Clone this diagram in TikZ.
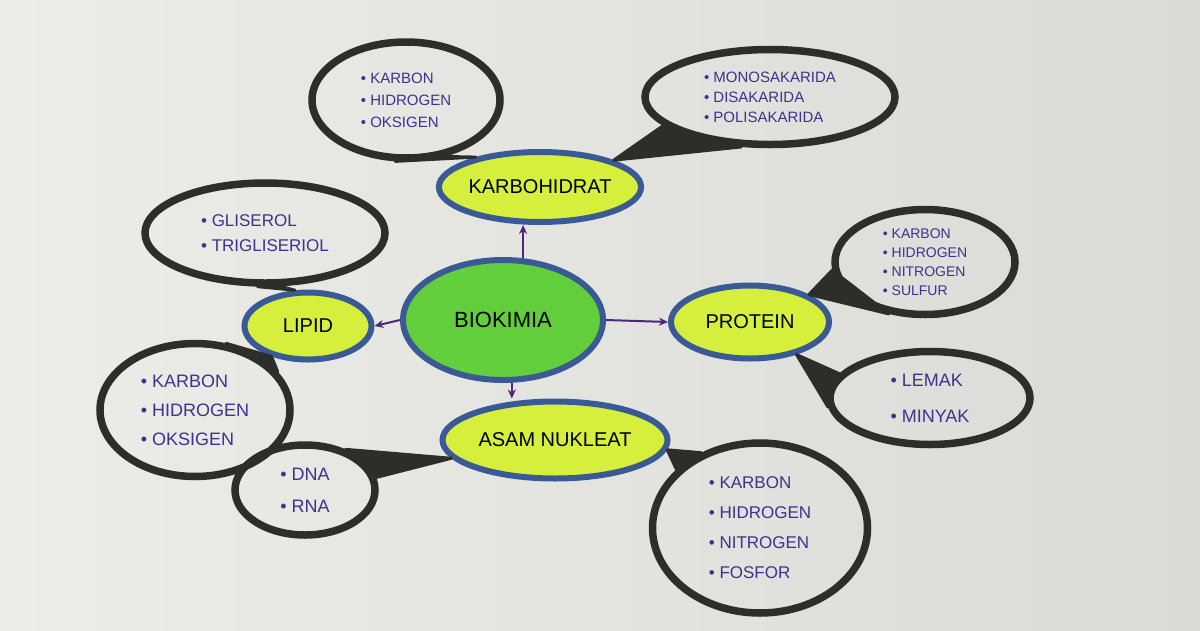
\documentclass[tikz,border=0pt]{standalone}
\usepackage{fontspec}
\setmainfont{Liberation Sans}
\usetikzlibrary{shapes.geometric,arrows.meta}
\definecolor{paperL}{RGB}{236,236,233}
\definecolor{paperR}{RGB}{218,218,214}
\definecolor{ink}{RGB}{45,46,42}
\definecolor{pen}{RGB}{62,50,140}
\definecolor{limefill}{RGB}{214,238,60}
\definecolor{greenfill}{RGB}{98,206,60}
\definecolor{rim}{RGB}{58,90,150}
\definecolor{arrowc}{RGB}{75,40,120}
\tikzset{
  bub/.style={ellipse, draw=ink, line width=7.5pt, text=pen, align=left, inner sep=0pt},
  topic/.style={ellipse, draw=rim, fill=limefill, line width=6pt, inner sep=0pt,
    font=\fontsize{20}{24}\selectfont, text=black},
  tailfill/.style={fill=ink, draw=ink, line width=3pt, line join=round},
  arr/.style={draw=arrowc, line width=2pt, -{Stealth[length=9pt,width=8pt]}},
}
\newcommand{\bl}{\textbullet\ }
\begin{document}
\begin{tikzpicture}[x=1pt,y=-1pt]
\shade[left color=paperL, right color=paperR] (0,0) rectangle (1200,630);
\useasboundingbox (0,0) rectangle (1200,630);

% topics
\node[topic, fill=greenfill, minimum width=200pt, minimum height=120pt,
      font=\fontsize{22}{26}\selectfont] (bio) at (503,320) {BIOKIMIA};
\node[topic, minimum width=198pt, minimum height=70pt] (kh) at (540,187) {KARBOHIDRAT};
\node[topic, minimum width=127pt, minimum height=67pt] (li) at (308,326) {LIPID};
\node[topic, minimum width=158pt, minimum height=73pt] (pr) at (750,322) {PROTEIN};
\node[topic, minimum width=225pt, minimum height=77pt] (as) at (555,440) {ASAM NUKLEAT};

% bubbles
\node[bub, minimum width=188pt, minimum height=116pt, font=\fontsize{15}{22}\selectfont]
  (b1) at (406,100) {\bl KARBON\\\bl HIDROGEN\\\bl OKSIGEN};
\node[bub, minimum width=250pt, minimum height=95pt, font=\fontsize{15}{20}\selectfont]
  (b2) at (770,97) {\bl MONOSAKARIDA\\\bl DISAKARIDA\\\bl POLISAKARIDA};
\node[bub, minimum width=240pt, minimum height=100pt, font=\fontsize{17}{25}\selectfont]
  (b3) at (265,233) {\bl GLISEROL\\\bl TRIGLISERIOL};
\node[bub, minimum width=190pt, minimum height=133pt, font=\fontsize{18}{29}\selectfont]
  (b4) at (195,410) {\bl KARBON\\\bl HIDROGEN\\\bl OKSIGEN};
\node[bub, minimum width=140pt, minimum height=90pt, font=\fontsize{18}{32}\selectfont]
  (b5) at (305,490) {\bl DNA\\\bl RNA};
\node[bub, minimum width=180pt, minimum height=105pt, font=\fontsize{14}{19}\selectfont]
  (b6) at (925,262) {\bl KARBON\\\bl HIDROGEN\\\bl NITROGEN\\\bl SULFUR};
\node[bub, minimum width=200pt, minimum height=93pt, font=\fontsize{18}{36}\selectfont]
  (b7) at (930,398) {\bl LEMAK\\\bl MINYAK};
\node[bub, minimum width=215pt, minimum height=170pt, font=\fontsize{17}{30}\selectfont]
  (b8) at (760,528) {\bl KARBON\\\bl HIDROGEN\\\bl NITROGEN\\\bl FOSFOR};

% tails
\filldraw[tailfill] (b1.-100) -- (kh.155) -- (b1.-55) -- cycle;
\filldraw[tailfill] (b2.-165) -- (kh.20) -- (b2.-120) -- cycle;
\filldraw[tailfill] (b3.-98) -- (li.110) -- (b3.-74) -- cycle;
\filldraw[tailfill] (b4.25) -- (li.-140) -- (b4.65) -- cycle;
\filldraw[tailfill] (b5.10) -- (as.190) -- (b5.45) -- cycle;
\filldraw[tailfill] (b6.-175) -- (pr.25) -- (b6.-125) -- cycle;
\filldraw[tailfill] (b7.165) -- (pr.-35) -- (b7.185) -- cycle;
\filldraw[tailfill] (b8.128) -- (as.-5) -- (b8.145) -- cycle;

% arrows
\draw[arr] (bio.72) -- (bio.72 |- kh.south);
\draw[arr] (bio.west) -- (li.east);
\draw[arr] (bio.east) -- (pr.west);
\draw[arr] (bio.-82) -- (bio.-82 |- as.north);
\end{tikzpicture}
\end{document}
